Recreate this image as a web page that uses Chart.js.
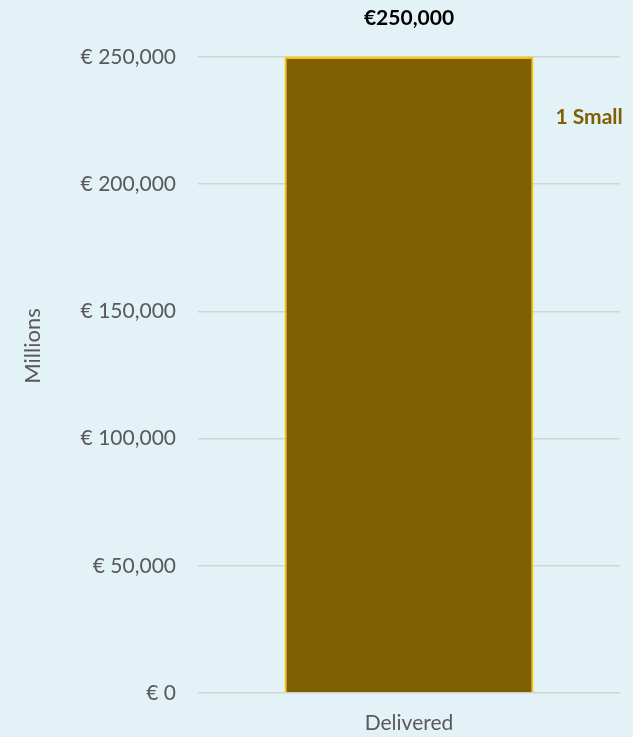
<!DOCTYPE html>
<html>
<head>
<meta charset="utf-8">
<script src="https://cdn.jsdelivr.net/npm/chart.js@4"></script>
<style>
  html, body { margin: 0; padding: 0; background: #e3f2f6; }
  canvas { display: block; }
</style>
</head>
<body>
<canvas id="chart" width="633" height="737"></canvas>
<script>
const categories = ['Delivered'];
const seriesName = '1 Small';
const seriesValues = [250000];
const yTicks = [0, 50000, 100000, 150000, 200000, 250000];
const yTitle = 'Millions';

const fontFamily = 'Lato, "Open Sans", sans-serif';

// value label above the bar, series name beside it, axis title on the left
const labelsPlugin = {
  id: 'labels',
  afterDatasetsDraw(chart) {
    const ctx = chart.ctx;
    const meta = chart.getDatasetMeta(0);
    const yScale = chart.scales.y;
    const area = chart.chartArea;
    ctx.save();
    meta.data.forEach((bar, i) => {
      ctx.font = 'bold 21px ' + fontFamily;
      ctx.fillStyle = '#000000';
      ctx.textAlign = 'center';
      ctx.textBaseline = 'middle';
      ctx.fillText('€' + seriesValues[i].toLocaleString('en-US'), bar.x, bar.y - 39);

      ctx.fillStyle = '#7f6000';
      ctx.textAlign = 'left';
      ctx.fillText(seriesName, bar.x + bar.width / 2 + 22, yScale.getPixelForValue(seriesValues[i] * 0.905));
    });

    ctx.translate(33, (area.top + area.bottom) / 2 - 29);
    ctx.rotate(-Math.PI / 2);
    ctx.font = '22px ' + fontFamily;
    ctx.fillStyle = '#595959';
    ctx.textAlign = 'center';
    ctx.textBaseline = 'middle';
    ctx.fillText(yTitle, 0, 0);
    ctx.restore();
  }
};

new Chart(document.getElementById('chart'), {
  type: 'bar',
  data: {
    labels: categories,
    datasets: [
      {
        label: seriesName,
        data: seriesValues,
        backgroundColor: '#7f6000',
        borderColor: '#ffc000',
        borderWidth: 2,
        barPercentage: 0.59,
        categoryPercentage: 1.0
      }
    ]
  },
  options: {
    responsive: false,
    animation: false,
    layout: { padding: { top: 57, right: 13, left: 46, bottom: 0 } },
    plugins: {
      legend: { display: false },
      tooltip: { enabled: false }
    },
    scales: {
      x: {
        grid: { display: false },
        border: { display: false },
        afterFit(scale) {
          scale.height = 44;
        },
        ticks: { color: '#595959', font: { family: fontFamily, size: 21 }, padding: 10 }
      },
      y: {
        min: 0,
        max: 250000,
        afterBuildTicks(scale) {
          scale.ticks = yTicks.map(v => ({ value: v }));
        },
        afterFit(scale) {
          scale.width = 152;
        },
        grid: { color: '#d3d3d3', lineWidth: 1.5, drawTicks: false },
        border: { display: false },
        ticks: {
          color: '#595959',
          font: { family: fontFamily, size: 21 },
          padding: 22,
          callback: v => '€ ' + v.toLocaleString('en-US')
        }
      }
    }
  },
  plugins: [labelsPlugin]
});
</script>
</body>
</html>
